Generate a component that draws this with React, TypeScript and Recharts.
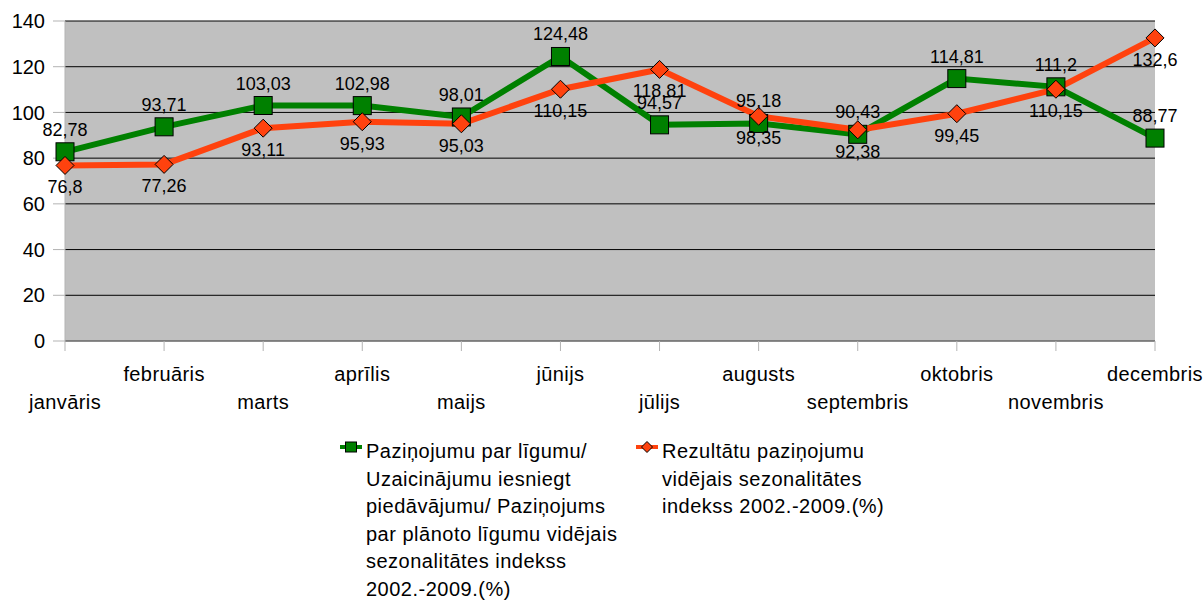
import React from 'react';
import { LineChart, Line, XAxis, YAxis, CartesianGrid, Legend, LabelList } from 'recharts';

const months = ['janvāris', 'februāris', 'marts', 'aprīlis', 'maijs', 'jūnijs', 'jūlijs', 'augusts', 'septembris', 'oktobris', 'novembris', 'decembris'];
const noticeIndex = [82.78, 93.71, 103.03, 102.98, 98.01, 124.48, 94.57, 95.18, 90.43, 114.81, 111.2, 88.77];
const resultIndex = [76.8, 77.26, 93.11, 95.93, 95.03, 110.15, 118.81, 98.35, 92.38, 99.45, 110.15, 132.6];
const yTicks = [0, 20, 40, 60, 80, 100, 120, 140];
const legendGreenLines = ['Paziņojumu par līgumu/', 'Uzaicinājumu iesniegt', 'piedāvājumu/ Paziņojums', 'par plānoto līgumu vidējais', 'sezonalitātes indekss', '2002.-2009.(%)'];
const legendOrangeLines = ['Rezultātu paziņojumu', 'vidējais sezonalitātes', 'indekss 2002.-2009.(%)'];

const GREEN = '#008000';
const ORANGE = '#ff420e';
const FONT = '"Liberation Sans", Arial, sans-serif';

const data = months.map((m, i) => ({ month: m, notice: noticeIndex[i], result: resultIndex[i] }));

const fmt = (v: number) => String(v).replace('.', ',');

const SquareDot = (props: any) => {
  const { cx, cy } = props;
  if (cx == null || cy == null) return null;
  return <rect x={cx - 9} y={cy - 9} width={18} height={18} fill={GREEN} stroke="#000" strokeWidth={1} />;
};

const DiamondDot = (props: any) => {
  const { cx, cy } = props;
  if (cx == null || cy == null) return null;
  const r = 9;
  return <polygon points={`${cx},${cy - r} ${cx + r},${cy} ${cx},${cy + r} ${cx - r},${cy}`} fill={ORANGE} stroke="#000" strokeWidth={1} />;
};

const AboveLabel = (props: any) => {
  const { x, y, value } = props;
  return <text x={x} y={y - 16} textAnchor="middle" fontSize={18} fill="#000" fontFamily={FONT}>{fmt(value)}</text>;
};

const BelowLabel = (props: any) => {
  const { x, y, value } = props;
  return <text x={x} y={y + 28} textAnchor="middle" fontSize={18} fill="#000" fontFamily={FONT}>{fmt(value)}</text>;
};

const MonthTick = (props: any) => {
  const { x, y, payload, index } = props;
  const dy = index % 2 === 0 ? 56 : 28;
  return <text x={x} y={y + dy} textAnchor="middle" fontSize={20} fill="#000" fontFamily={FONT} letterSpacing={0.4}>{payload.value}</text>;
};

const renderLegend = () => (
  <div style={{ display: 'flex', fontFamily: FONT, fontSize: 20, lineHeight: '27.5px', color: '#000', letterSpacing: '0.5px' }}>
    <div style={{ display: 'flex', width: 296 }}>
      <svg width={26} height={28} style={{ flex: 'none' }}>
        <rect x={0} y={7} width={22} height={4} fill={GREEN} />
        <rect x={5.5} y={4} width={11} height={10} fill={GREEN} stroke="#000" strokeWidth={1} />
      </svg>
      <div>{legendGreenLines.map((l) => <div key={l} style={{ whiteSpace: 'nowrap' }}>{l}</div>)}</div>
    </div>
    <div style={{ display: 'flex' }}>
      <svg width={26} height={28} style={{ flex: 'none' }}>
        <rect x={0} y={7} width={22} height={4} fill={ORANGE} />
        <polygon points="11,3.5 16.5,9 11,14.5 5.5,9" fill={ORANGE} stroke="#000" strokeWidth={1} />
      </svg>
      <div>{legendOrangeLines.map((l) => <div key={l} style={{ whiteSpace: 'nowrap' }}>{l}</div>)}</div>
    </div>
  </div>
);

export default function App() {
  return (
    <div style={{ fontFamily: FONT, width: 1204, height: 601, overflow: 'hidden' }}>
      <style>{`body{margin:0}.recharts-surface{overflow:visible}.recharts-wrapper{overflow:visible !important}`}</style>
      <LineChart width={1204} height={601} data={data} margin={{ top: 21, right: 49, left: 8, bottom: 180 }}>
        <CartesianGrid vertical={false} fill="#c0c0c0" fillOpacity={1} stroke="#000" strokeOpacity={1} />
        <XAxis
          dataKey="month"
          interval={0}
          height={80}
          tickSize={10}
          tickMargin={2}
          axisLine={{ stroke: '#999999' }}
          tickLine={{ stroke: '#b3b3b3' }}
          tick={<MonthTick />}
        />
        <YAxis
          domain={[0, 140]}
          ticks={yTicks}
          width={57}
          tickSize={12}
          tickMargin={8}
          axisLine={{ stroke: '#b3b3b3' }}
          tickLine={{ stroke: '#b3b3b3' }}
          tick={{ fontSize: 20, fill: '#000', fontFamily: FONT }}
          interval={0}
        />
        <Legend
          layout="vertical"
          align="center"
          verticalAlign="middle"
          content={renderLegend}
          wrapperStyle={{ top: 438, left: 340, width: 600 }}
        />
        <Line
          dataKey="notice"
          name="Paziņojumu par līgumu/ Uzaicinājumu iesniegt piedāvājumu/ Paziņojums par plānoto līgumu vidējais sezonalitātes indekss 2002.-2009.(%)"
          stroke={GREEN}
          strokeWidth={6}
          dot={<SquareDot />}
          activeDot={false}
          isAnimationActive={false}
        >
          <LabelList dataKey="notice" content={<AboveLabel />} />
        </Line>
        <Line
          dataKey="result"
          name="Rezultātu paziņojumu vidējais sezonalitātes indekss 2002.-2009.(%)"
          stroke={ORANGE}
          strokeWidth={6}
          dot={<DiamondDot />}
          activeDot={false}
          isAnimationActive={false}
        >
          <LabelList dataKey="result" content={<BelowLabel />} />
        </Line>
      </LineChart>
    </div>
  );
}
